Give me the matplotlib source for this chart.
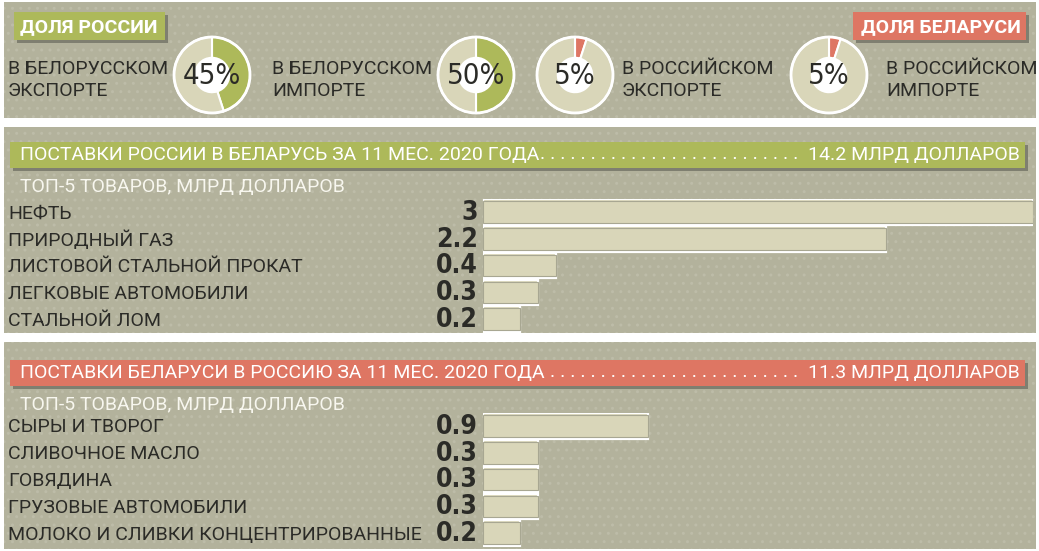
import matplotlib.pyplot as plt
from matplotlib.patches import Rectangle, Circle
from matplotlib.transforms import blended_transform_factory

# --- data ---
share_labels = ["В БЕЛОРУССКОМ\nЭКСПОРТЕ", "В БЕЛОРУССКОМ\nИМПОРТЕ",
                "В РОССИЙСКОМ\nЭКСПОРТЕ", "В РОССИЙСКОМ\nИМПОРТЕ"]
share_values = [45, 50, 5, 5]
share_owner = ["ru", "ru", "by", "by"]

ru_title = "ПОСТАВКИ РОССИИ В БЕЛАРУСЬ ЗА 11 МЕС. 2020 ГОДА"
ru_total = "14.2 МЛРД ДОЛЛАРОВ"
ru_goods = ["НЕФТЬ", "ПРИРОДНЫЙ ГАЗ", "ЛИСТОВОЙ СТАЛЬНОЙ ПРОКАТ",
            "ЛЕГКОВЫЕ АВТОМОБИЛИ", "СТАЛЬНОЙ ЛОМ"]
ru_values = [3, 2.2, 0.4, 0.3, 0.2]

by_title = "ПОСТАВКИ БЕЛАРУСИ В РОССИЮ ЗА 11 МЕС. 2020 ГОДА"
by_total = "11.3 МЛРД ДОЛЛАРОВ"
by_goods = ["СЫРЫ И ТВОРОГ", "СЛИВОЧНОЕ МАСЛО", "ГОВЯДИНА",
            "ГРУЗОВЫЕ АВТОМОБИЛИ", "МОЛОКО И СЛИВКИ КОНЦЕНТРИРОВАННЫЕ"]
by_values = [0.9, 0.3, 0.3, 0.3, 0.2]

subtitle = "ТОП-5 ТОВАРОВ, МЛРД ДОЛЛАРОВ"

# --- style ---
BG = "#b3b29c"
GREEN = "#adb95a"
RED = "#de7663"
LIGHT = "#d9d6b9"
SHADOW = "#7f7f70"
DARK = "#2b2b27"
W, H = 1039, 551

plt.rcParams['font.family'] = ['Roboto', 'DejaVu Sans']
NARROW = ['DejaVu Sans']

fig = plt.figure(figsize=(W / 100, H / 100), dpi=100)
fig.patch.set_facecolor("white")
bg = fig.add_axes([0, 0, 1, 1])
bg.set_xlim(0, W)
bg.set_ylim(H, 0)
bg.axis("off")


def px_axes(x0, y0, w, h):
    return fig.add_axes([x0 / W, 1 - (y0 + h) / H, w / W, h / H])


def panel(y0, y1):
    bg.add_patch(Rectangle((4, y0), 1032, y1 - y0, facecolor=BG, lw=0,
                           hatch="..", edgecolor="#bdbca8", zorder=0))


def box(x0, y0, x1, y1, color):
    bg.add_patch(Rectangle((x0 + 3, y0 + 3), x1 - x0, y1 - y0, facecolor=SHADOW, lw=0, zorder=1))
    bg.add_patch(Rectangle((x0, y0), x1 - x0, y1 - y0, facecolor=color, lw=0, zorder=2))


panel(2, 118)
panel(127, 333)
panel(342, 549)

# --- top: shares ---
box(14, 12, 165, 40, GREEN)
bg.text(20, 27, "ДОЛЯ РОССИИ", color="white", fontsize=14, fontweight="bold", va="center", zorder=3)
box(853, 12, 1026, 40, RED)
bg.text(1021, 27, "ДОЛЯ БЕЛАРУСИ", color="white", fontsize=14, fontweight="bold",
        va="center", ha="right", zorder=3)

donut_cx = [212, 476, 575, 829]
label_x = [8, 272, 622, 886]
for cx, lx, lab, val, own in zip(donut_cx, label_x, share_labels, share_values, share_owner):
    r = 38
    dax = px_axes(cx - r - 2, 75 - r - 2, 2 * r + 4, 2 * r + 4)
    accent = GREEN if own == "ru" else RED
    dax.pie([val, 100 - val], startangle=90, counterclock=False, colors=[accent, LIGHT],
            radius=r / (r + 2),
            wedgeprops=dict(width=0.52, edgecolor="white", linewidth=1.5))
    dax.add_patch(Circle((0, 0), r / (r + 2), facecolor="none", edgecolor="white", lw=2))
    dax.add_patch(Circle((0, 0), r / (r + 2) - 0.52, facecolor="white", edgecolor="none"))
    dax.set_xlim(-1, 1)
    dax.set_ylim(-1, 1)
    dax.set_aspect("equal")
    dax.axis("off")
    dax.text(0, -0.03, f"{val}%", ha="center", va="center", fontsize=21,
             family=NARROW, fontstretch="condensed", color=DARK)
    bg.text(lx, 80, lab, ha="left", va="center", fontsize=14, color=DARK, linespacing=1.35)


# --- bar panels ---
def bar_section(band_y, title, total, color, goods, values, row0, dots_x, n_dots):
    box(10, band_y, 1025, band_y + 26, color)
    bg.text(20, band_y + 13, title, color="white", fontsize=14, va="center", zorder=3)
    bg.text(1020, band_y + 13, total, color="white", fontsize=14, va="center", ha="right", zorder=3)
    bg.text(dots_x, band_y + 12, ". " * n_dots, color="white",
            fontsize=14, va="center", zorder=3)
    bg.text(20, band_y + 45, subtitle, color="#f8f7ef", fontsize=14, va="center")

    pitch = 26.8
    ax = px_axes(483, row0 - pitch / 2, 550, pitch * len(goods))
    ax.set_xlim(0, 3)
    ax.set_ylim(len(goods) - 0.5, -0.5)
    ax.axis("off")
    ys = range(len(goods))
    ax.barh(ys, values, height=0.95, color=LIGHT, edgecolor="white", linewidth=1.6)
    ax.barh(ys, values, height=0.8, color=LIGHT, edgecolor="#a8a792", linewidth=0.8)
    tr = blended_transform_factory(bg.transData, ax.transData)
    for y, g, v in zip(ys, goods, values):
        ax.text(8, y + 0.05, g, transform=tr, ha="left", va="center", fontsize=14, color=DARK)
        ax.text(478, y + 0.03, f"{v:g}", transform=tr, ha="right", va="center",
                fontsize=19, fontweight="bold", family=NARROW, fontstretch="condensed",
                color=DARK)


bar_section(142, ru_title, ru_total, GREEN, ru_goods, ru_values, 212, 540, 26)
bar_section(360, by_title, by_total, RED, by_goods, by_values, 426, 550, 25)

fig.savefig("out.png", dpi=100)
